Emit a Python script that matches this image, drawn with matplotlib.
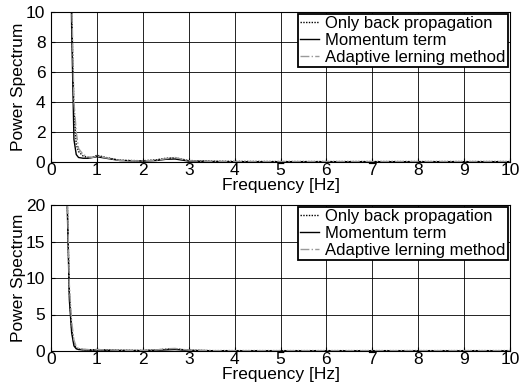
import matplotlib
matplotlib.use("Agg")
import matplotlib.pyplot as plt

plt.rcParams['font.family'] = ['Liberation Sans', 'DejaVu Sans']

freq = [0, 0.1, 0.2, 0.3, 0.35, 0.4, 0.45, 0.5, 0.55, 0.6, 0.7, 0.8, 0.9, 1.0, 1.2, 1.5, 2.0, 2.3, 2.5, 2.7, 3.0, 3.5, 4, 5, 6, 7, 8, 9, 10]

# top panel
top_bp = [60, 55, 45, 35, 28, 20, 10, 3.5, 1.2, 0.7, 0.4, 0.3, 0.3, 0.45, 0.3, 0.12, 0.08, 0.15, 0.25, 0.28, 0.1, 0.05, 0.04, 0.03, 0.03, 0.03, 0.03, 0.03, 0.03]
top_mom = [60, 55, 45, 35, 28, 20, 9, 1.5, 0.5, 0.3, 0.25, 0.25, 0.3, 0.35, 0.25, 0.1, 0.06, 0.1, 0.18, 0.2, 0.06, 0.03, 0.02, 0.02, 0.02, 0.02, 0.02, 0.02, 0.02]
top_ada = [60, 55, 45, 35, 28, 20, 11, 4.0, 2.0, 0.9, 0.5, 0.35, 0.3, 0.4, 0.28, 0.1, 0.07, 0.12, 0.22, 0.3, 0.08, 0.04, 0.03, 0.03, 0.03, 0.03, 0.03, 0.03, 0.03]

# bottom panel
bot_bp = [120, 100, 80, 40, 22, 8, 3.0, 1.0, 0.4, 0.25, 0.2, 0.18, 0.15, 0.2, 0.15, 0.1, 0.08, 0.15, 0.25, 0.3, 0.1, 0.05, 0.05, 0.05, 0.05, 0.05, 0.05, 0.05, 0.05]
bot_mom = [120, 100, 80, 40, 21, 7, 2.5, 0.7, 0.3, 0.2, 0.15, 0.12, 0.1, 0.15, 0.1, 0.07, 0.05, 0.1, 0.15, 0.2, 0.08, 0.04, 0.03, 0.03, 0.03, 0.03, 0.03, 0.03, 0.03]
bot_ada = [120, 100, 80, 40, 23, 9, 4.0, 1.5, 0.6, 0.35, 0.25, 0.2, 0.15, 0.2, 0.15, 0.1, 0.08, 0.15, 0.3, 0.35, 0.12, 0.05, 0.05, 0.05, 0.05, 0.05, 0.05, 0.05, 0.05]

labels = ["Only back propagation", "Momentum term", "Adaptive lerning method"]
xticks = [0, 1, 2, 3, 4, 5, 6, 7, 8, 9, 10]
top_yticks = [0, 2, 4, 6, 8, 10]
bot_yticks = [0, 5, 10, 15, 20]

fig = plt.figure(figsize=(5.23, 3.88), dpi=100)
ax1 = fig.add_axes([51/523, 1 - 162/388, 459/523, 150/388])
ax2 = fig.add_axes([51/523, 1 - 351/388, 459/523, 146/388])

panels = [(ax1, top_bp, top_mom, top_ada, 10, top_yticks),
          (ax2, bot_bp, bot_mom, bot_ada, 20, bot_yticks)]

for ax, bp, mom, ada, ymax, yt in panels:
    ax.plot(freq, bp, color='black', linestyle=(0, (1, 1)), linewidth=1.0, label=labels[0])
    ax.plot(freq, mom, color='black', linestyle='-', linewidth=1.0, label=labels[1])
    ax.plot(freq, ada, color='#9a9a9a', linestyle='-.', linewidth=1.0, label=labels[2])
    ax.set_xlim(0, 10)
    ax.set_ylim(0, ymax)
    ax.set_xticks(xticks)
    ax.set_yticks(yt)
    ax.grid(True, color='black', linewidth=0.6)
    for s in ax.spines.values():
        s.set_color('black')
        s.set_linewidth(0.8)
    ax.tick_params(axis='x', direction='in', length=3, labelsize=12.5, pad=1, colors='black')
    ax.tick_params(axis='y', direction='in', length=3, labelsize=12.5, pad=4, colors='black')
    ax.set_ylabel("Power Spectrum", fontsize=12.5, labelpad=0)
    ax.set_xlabel("Frequency [Hz]", fontsize=12.5, labelpad=0)
    leg = ax.legend(loc='upper right', fontsize=12, frameon=True, fancybox=False,
                    edgecolor='black', framealpha=1, borderpad=0.15, labelspacing=0.1,
                    handlelength=1.1, handletextpad=0.4, borderaxespad=0.1)
    leg.get_frame().set_linewidth(1.3)

fig.savefig("out.png", dpi=100)
